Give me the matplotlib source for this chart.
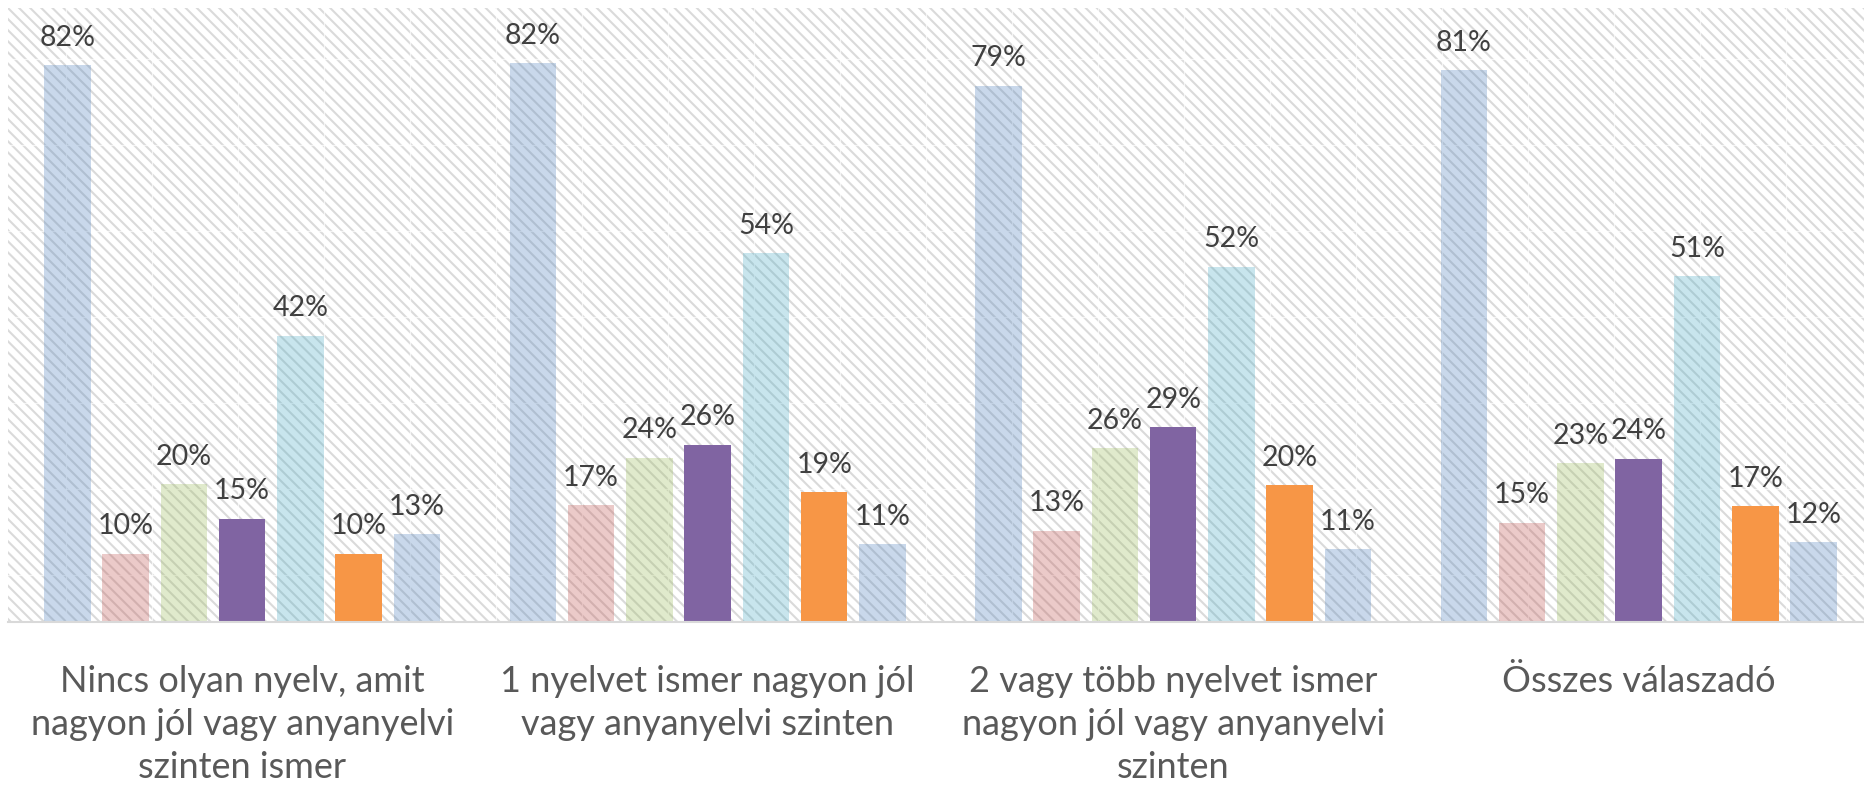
import numpy as np
import matplotlib.pyplot as plt
from matplotlib.patches import Rectangle

plt.rcParams['font.family'] = ['Lato', 'DejaVu Sans']
plt.rcParams['hatch.linewidth'] = 1.5

# Categories (x axis groups)
categories = [
    'Nincs olyan nyelv, amit\nnagyon jól vagy anyanyelvi\nszinten ismer',
    '1 nyelvet ismer nagyon jól\nvagy anyanyelvi szinten',
    '2 vagy több nyelvet ismer\nnagyon jól vagy anyanyelvi\nszinten',
    'Összes válaszadó',
]

# One list per series (percent)
series_1 = [82.1, 82.4, 79.1, 81.4]
series_2 = [10.0, 17.2, 13.4, 14.6]
series_3 = [20.3, 24.2, 25.6, 23.4]
series_4 = [15.2, 26.1, 28.7, 24.0]
series_5 = [42.2, 54.4, 52.4, 51.0]
series_6 = [10.0, 19.1, 20.1, 17.0]
series_7 = [12.9, 11.4, 10.7, 11.7]

all_series = [series_1, series_2, series_3, series_4, series_5, series_6, series_7]
colors = ['#4f81bd', '#c0504d', '#9bbb59', '#8064a2', '#4bacc6', '#f79646', '#4f81bd']
alphas = [0.3, 0.3, 0.3, 1.0, 0.3, 1.0, 0.3]

W, H = 1864, 785
fig = plt.figure(figsize=(W / 100, H / 100), dpi=100)
left_px, top_px, axis_px = 8, 8, 621.5
ax = fig.add_axes([left_px / W, 1 - axis_px / H, 1 - left_px / W, (axis_px - top_px) / H])

# hatched background, like the pattern fill of the original
bg = Rectangle((0, 0), 1, 1, transform=ax.transAxes, facecolor='white',
               edgecolor='#dadada', hatch='\\\\\\', linewidth=0, zorder=0)
ax.add_patch(bg)

# faint seams between the pattern tiles (every 86 px)
tile = 86
for px in np.arange(66, W, tile):
    fx = (px - left_px) / (W - left_px)
    ax.plot([fx, fx], [0, 1], color='white', lw=0.9, alpha=0.7, zorder=1,
            transform=ax.transAxes)
for py in np.arange(59, axis_px, tile):
    fy = (axis_px - py) / (axis_px - top_px)
    ax.plot([0, 1], [fy, fy], color='white', lw=0.9, alpha=0.7, zorder=1,
            transform=ax.transAxes)

x = np.arange(len(categories))
step = 0.1252
width = 0.0999
for i, (vals, col, a) in enumerate(zip(all_series, colors, alphas)):
    xs = x + (i - 3) * step
    ax.bar(xs, vals, width=width, color=col, alpha=a, linewidth=0, zorder=2)
    for xi, v in zip(xs, vals):
        ax.annotate(f'{v:.0f}%', (xi, v), xytext=(0, 14), textcoords='offset points',
                    ha='center', va='baseline', fontsize=20.5, color='#404040', zorder=3)

ax.set_xlim(-0.503, 3.484)
ax.set_ylim(0, 90.57)
ax.set_yticks([])
ax.set_xticks(x)
ax.set_xticklabels(categories, fontsize=26, color='#595959', linespacing=1.37)
ax.tick_params(axis='x', length=0, pad=31)

for s in ['top', 'left', 'right']:
    ax.spines[s].set_visible(False)
ax.spines['bottom'].set_color('#d9d9d9')
ax.spines['bottom'].set_linewidth(1.5)
ax.spines['bottom'].set_zorder(4)

fig.savefig('out.png', dpi=100)
